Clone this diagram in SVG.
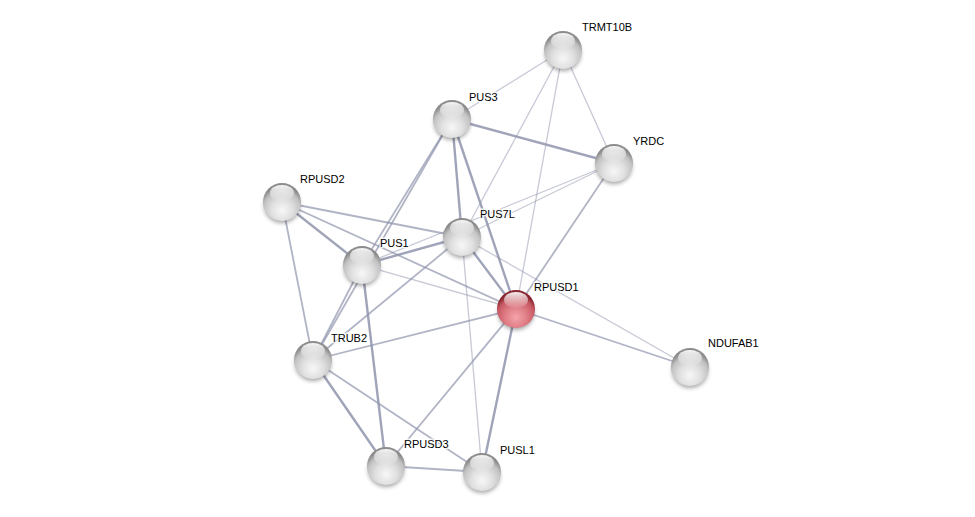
<svg xmlns="http://www.w3.org/2000/svg" width="975" height="517" viewBox="0 0 975 517">
<defs>
<radialGradient id="gGrey" cx="50%" cy="72%" r="62%">
<stop offset="0" stop-color="#f7f7f7"/>
<stop offset="0.45" stop-color="#e0e0e0"/>
<stop offset="0.8" stop-color="#c2c2c2"/>
<stop offset="1" stop-color="#8c8c8c"/>
</radialGradient>
<radialGradient id="gRed" cx="50%" cy="72%" r="62%">
<stop offset="0" stop-color="#f5a4aa"/>
<stop offset="0.45" stop-color="#e07e86"/>
<stop offset="0.8" stop-color="#c85a64"/>
<stop offset="1" stop-color="#8a2530"/>
</radialGradient>
<linearGradient id="gHi" x1="0" y1="0" x2="0" y2="1">
<stop offset="0" stop-color="#ffffff" stop-opacity="0.95"/>
<stop offset="1" stop-color="#ffffff" stop-opacity="0.05"/>
</linearGradient>
<filter id="blur" x="-50%" y="-50%" width="200%" height="200%">
<feGaussianBlur stdDeviation="2"/>
</filter>
<g id="sphere">
<ellipse cx="0" cy="4" rx="18" ry="17" fill="#000" opacity="0.35" filter="url(#blur)"/>
<circle r="19" fill="url(#gGrey)"/>
<ellipse cx="0" cy="-9" rx="12" ry="8" fill="url(#gHi)"/>
</g>
<g id="sphereRed">
<ellipse cx="0" cy="4" rx="18" ry="17" fill="#000" opacity="0.35" filter="url(#blur)"/>
<circle r="19" fill="url(#gRed)"/>
<ellipse cx="0" cy="-9" rx="12" ry="8" fill="url(#gHi)"/>
</g>
</defs>
<style>
.e{stroke:#8f94ad;fill:none;stroke-linecap:round}
.w1{stroke-width:1.3;stroke-opacity:0.5}
.w2{stroke-width:1.8;stroke-opacity:0.7}
.w3{stroke-width:2.4;stroke-opacity:0.85}
.lbl{font-family:"Liberation Sans",Arial,sans-serif;font-size:11px;fill:#000;stroke:#fff;stroke-width:3;stroke-opacity:0.8;paint-order:stroke;stroke-linejoin:round}
</style>
<rect width="975" height="517" fill="#fff"/>
<g id="edges">
<line class="e w1" x1="563" y1="50" x2="452" y2="119"/>
<line class="e w1" x1="563" y1="50" x2="614" y2="163"/>
<line class="e w1" x1="563" y1="50" x2="462" y2="237"/>
<line class="e w1" x1="563" y1="50" x2="516" y2="309"/>
<line class="e w3" x1="452" y1="119" x2="614" y2="163"/>
<line class="e w3" x1="452" y1="119" x2="462" y2="237"/>
<line class="e w3" x1="452" y1="119" x2="516" y2="309"/>
<line class="e w2" x1="452" y1="119" x2="362" y2="265"/>
<line class="e w2" x1="452" y1="119" x2="313" y2="360"/>
<line class="e w1" x1="614" y1="163" x2="462" y2="237"/>
<line class="e w1" x1="614" y1="163" x2="362" y2="265"/>
<line class="e w2" x1="614" y1="163" x2="516" y2="309"/>
<line class="e w2" x1="282" y1="202" x2="462" y2="237"/>
<line class="e w3" x1="282" y1="202" x2="362" y2="265"/>
<line class="e w2" x1="282" y1="202" x2="516" y2="309"/>
<line class="e w2" x1="282" y1="202" x2="313" y2="360"/>
<line class="e w3" x1="462" y1="237" x2="362" y2="265"/>
<line class="e w3" x1="462" y1="237" x2="516" y2="309"/>
<line class="e w2" x1="462" y1="237" x2="313" y2="360"/>
<line class="e w1" x1="462" y1="237" x2="482" y2="472"/>
<line class="e w1" x1="462" y1="237" x2="690" y2="367"/>
<line class="e w1" x1="362" y1="265" x2="516" y2="309"/>
<line class="e w2" x1="362" y1="265" x2="313" y2="360"/>
<line class="e w3" x1="362" y1="265" x2="386" y2="466"/>
<line class="e w2" x1="516" y1="309" x2="313" y2="360"/>
<line class="e w2" x1="516" y1="309" x2="386" y2="466"/>
<line class="e w3" x1="516" y1="309" x2="482" y2="472"/>
<line class="e w2" x1="516" y1="309" x2="690" y2="367"/>
<line class="e w3" x1="313" y1="360" x2="386" y2="466"/>
<line class="e w2" x1="313" y1="360" x2="482" y2="472"/>
<line class="e w2" x1="386" y1="466" x2="482" y2="472"/>
</g>
<g id="TRMT10B"><use href="#sphere" x="563" y="50"/><text class="lbl" x="582" y="31">TRMT10B</text></g>
<g id="PUS3"><use href="#sphere" x="452" y="119"/><text class="lbl" x="469" y="101">PUS3</text></g>
<g id="YRDC"><use href="#sphere" x="614" y="163"/><text class="lbl" x="633" y="145">YRDC</text></g>
<g id="RPUSD2"><use href="#sphere" x="282" y="202"/><text class="lbl" x="300" y="183">RPUSD2</text></g>
<g id="PUS7L"><use href="#sphere" x="462" y="237"/><text class="lbl" x="480" y="218">PUS7L</text></g>
<g id="PUS1"><use href="#sphere" x="362" y="265"/><text class="lbl" x="380" y="247">PUS1</text></g>
<g id="RPUSD1"><use href="#sphereRed" x="516" y="309"/><text class="lbl" x="534" y="291">RPUSD1</text></g>
<g id="TRUB2"><use href="#sphere" x="313" y="360"/><text class="lbl" x="331" y="342">TRUB2</text></g>
<g id="NDUFAB1"><use href="#sphere" x="690" y="367"/><text class="lbl" x="708" y="347">NDUFAB1</text></g>
<g id="RPUSD3"><use href="#sphere" x="386" y="466"/><text class="lbl" x="404" y="448">RPUSD3</text></g>
<g id="PUSL1"><use href="#sphere" x="482" y="472"/><text class="lbl" x="500" y="454">PUSL1</text></g>
</svg>
